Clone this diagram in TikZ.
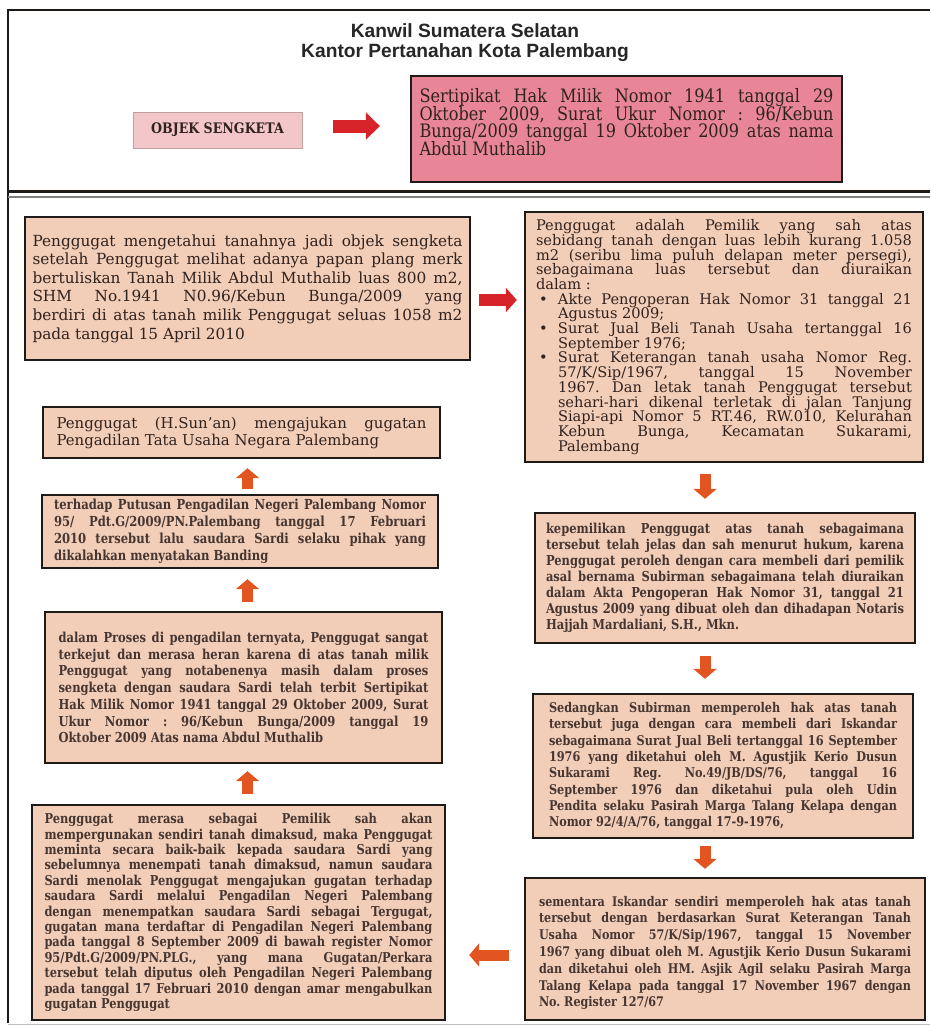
\documentclass[tikz,border=0pt]{standalone}
\usepackage{fontspec}
\usetikzlibrary{arrows.meta,calc}
\setmainfont{DejaVu Serif}
\newfontfamily\srn[FakeStretch=0.87]{DejaVu Serif}
\newfontfamily\srb[FakeStretch=0.84]{DejaVu Serif}
\newfontfamily\ttlfont{Liberation Sans}
\frenchspacing
\newdimen\jw
\newcommand\JL[1]{\hbox to\jw{\spaceskip=\fontdimen2\font plus 1fil\relax #1}}
\newcommand\LL[1]{\hbox{#1}}
\newcommand\BL{\hbox to 22pt{\hskip3pt\textbullet\hfil}}
\newcommand\IN{\hskip22pt}
\newcommand\setfs[3]{\fontsize{#1}{#2}\selectfont\lineskiplimit=-100pt\jw=#3pt\relax}
\definecolor{peach}{RGB}{242,205,183}
\definecolor{pinkbox}{RGB}{232,134,152}
\definecolor{objpink}{RGB}{243,198,202}
\definecolor{objline}{RGB}{195,160,160}
\definecolor{redA}{RGB}{214,36,40}
\definecolor{orA}{RGB}{226,84,34}
\definecolor{txtA}{RGB}{48,34,30}
\definecolor{txtB}{RGB}{70,54,50}
\definecolor{edge}{RGB}{30,26,24}
\tikzset{
  box/.style={rectangle, draw=edge, line width=2.4pt, fill=peach, inner sep=0pt},
  bigred/.style={draw=redA, line width=13pt, -{Triangle[width=27pt,length=14pt]}},
  redarrow/.style={draw=redA, line width=12pt, -{Triangle[width=24pt,length=11pt]}},
  orarrow/.style={draw=orA, line width=11pt, -{Triangle[width=23pt,length=10pt]}},
}
\begin{document}
\begin{tikzpicture}[x=1pt,y=-1pt]
\useasboundingbox (0,0) rectangle (930,1026);
% frame
\draw[line width=2.5pt, edge] (8,1023) -- (8,10) -- (930,10);
\draw[line width=3pt, edge] (8,191) -- (930,191);
\draw[line width=1.5pt, gray] (8,197) -- (930,197);
\draw[line width=1pt, gray!50] (8,1024) -- (930,1024);
% title
\node[font=\ttlfont\bfseries\fontsize{19.2}{20}\selectfont, anchor=base, text=black!85] (T1) at (465,37) {Kanwil Sumatera Selatan};
\node[font=\ttlfont\bfseries\fontsize{19.2}{20}\selectfont, anchor=base, text=black!85] (T2) at (465,57) {Kantor Pertanahan Kota Palembang};
% objek sengketa
\node[rectangle, draw=objline, line width=0.8pt, fill=objpink, minimum width=169pt, minimum height=36pt, inner sep=0pt,
      font=\srn\bfseries\fontsize{14.5}{16}\selectfont, text=txtA] (O) at (217.5,130) {OBJEK SENGKETA};
\node[box, fill=pinkbox, minimum width=431pt, minimum height=106pt,
      font=\srn\setfs{18.5}{17.5}{414}, text=txtA] (P) at (626.5,129) {\vbox{%
\JL{Sertipikat Hak Milik Nomor 1941 tanggal 29}
\JL{Oktober 2009, Surat Ukur Nomor : 96/Kebun}
\JL{Bunga/2009 tanggal 19 Oktober 2009 atas nama}
\LL{Abdul Muthalib}
\kern14pt}};
% box A
\node[box, minimum width=445pt, minimum height=143pt, font=\setfs{15.3}{18.6}{430}, text=txtA] (A) at (247.5,288.5) {\vbox{%
\JL{Penggugat mengetahui tanahnya jadi objek sengketa}
\JL{setelah Penggugat melihat adanya papan plang merk}
\JL{bertuliskan Tanah Milik Abdul Muthalib luas 800 m2,}
\JL{SHM No.1941 N0.96/Kebun Bunga/2009 yang}
\JL{berdiri di atas tanah milik Penggugat seluas 1058 m2}
\LL{pada tanggal 15 April 2010}}};
% box B
\node[box, minimum width=398pt, minimum height=250pt, font=\setfs{14.6}{14.7}{376}, text=txtA] (B) at (724,337) {\vbox{%
\JL{Penggugat adalah Pemilik yang sah atas}
\JL{sebidang tanah dengan luas lebih kurang 1.058}
\JL{m2 (seribu lima puluh delapan meter persegi),}
\JL{sebagaimana luas tersebut dan diuraikan}
\LL{dalam :}
\JL{\BL Akte Pengoperan Hak Nomor 31 tanggal 21}
\LL{\IN Agustus 2009;}
\JL{\BL Surat Jual Beli Tanah Usaha tertanggal 16}
\LL{\IN September 1976;}
\JL{\BL Surat Keterangan tanah usaha Nomor Reg.}
\JL{\IN 57/K/Sip/1967, tanggal 15 November}
\JL{\IN 1967. Dan letak tanah Penggugat tersebut}
\JL{\IN sehari-hari dikenal terletak di jalan Tanjung}
\JL{\IN Siapi-api Nomor 5 RT.46, RW.010, Kelurahan}
\JL{\IN Kebun Bunga, Kecamatan Sukarami,}
\LL{\IN Palembang}}};
% box C
\node[box, minimum width=380pt, minimum height=130pt, font=\srb\bfseries\setfs{13.7}{16}{358}, text=txtB] (C) at (725,578) {\vbox{%
\JL{kepemilikan Penggugat atas tanah sebagaimana}
\JL{tersebut telah jelas dan sah menurut hukum, karena}
\JL{Penggugat peroleh dengan cara membeli dari pemilik}
\JL{asal bernama Subirman sebagaimana telah diuraikan}
\JL{dalam Akta Pengoperan Hak Nomor 31, tanggal 21}
\JL{Agustus 2009 yang dibuat oleh dan dihadapan Notaris}
\LL{Hajjah Mardaliani, S.H., Mkn.}}};
% box D
\node[box, minimum width=380pt, minimum height=144pt, font=\srb\bfseries\setfs{13.4}{16.3}{348}, text=txtB] (D) at (723,766) {\vbox{%
\JL{Sedangkan Subirman memperoleh hak atas tanah}
\JL{tersebut juga dengan cara membeli dari Iskandar}
\JL{sebagaimana Surat Jual Beli tertanggal 16 September}
\JL{1976 yang diketahui oleh M. Agustjik Kerio Dusun}
\JL{Sukarami Reg. No.49/JB/DS/76, tanggal 16}
\JL{September 1976 dan diketahui pula oleh Udin}
\JL{Pendita selaku Pasirah Marga Talang Kelapa dengan}
\LL{Nomor 92/4/A/76, tanggal 17-9-1976,}}};
% box E
\node[box, minimum width=400pt, minimum height=142pt, font=\srb\bfseries\setfs{13.3}{16.8}{372}, text=txtB] (E) at (725,949) {\vbox{%
\kern8pt
\JL{sementara Iskandar sendiri memperoleh hak atas tanah}
\JL{tersebut dengan berdasarkan Surat Keterangan Tanah}
\JL{Usaha Nomor 57/K/Sip/1967, tanggal 15 November}
\JL{1967 yang dibuat oleh M. Agustjik Kerio Dusun Sukarami}
\JL{dan diketahui oleh HM. Asjik Agil selaku Pasirah Marga}
\JL{Talang Kelapa pada tanggal 17 November 1967 dengan}
\LL{No. Register 127/67}}};
% box F
\node[box, minimum width=413pt, minimum height=215pt, font=\srb\bfseries\setfs{13.6}{15.4}{388}, text=txtB] (F) at (238.5,912.5) {\vbox{%
\JL{Penggugat merasa sebagai Pemilik sah akan}
\JL{mempergunakan sendiri tanah dimaksud, maka Penggugat}
\JL{meminta secara baik-baik kepada saudara Sardi yang}
\JL{sebelumnya menempati tanah dimaksud, namun saudara}
\JL{Sardi menolak Penggugat mengajukan gugatan terhadap}
\JL{saudara Sardi melalui Pengadilan Negeri Palembang}
\JL{dengan menempatkan saudara Sardi sebagai Tergugat,}
\JL{gugatan mana terdaftar di Pengadilan Negeri Palembang}
\JL{pada tanggal 8 September 2009 di bawah register Nomor}
\JL{95/Pdt.G/2009/PN.PLG., yang mana Gugatan/Perkara}
\JL{tersebut telah diputus oleh Pengadilan Negeri Palembang}
\JL{pada tanggal 17 Februari 2010 dengan amar mengabulkan}
\LL{gugatan Penggugat}}};
% box G
\node[box, minimum width=397pt, minimum height=151pt, font=\srb\bfseries\setfs{13.7}{16.7}{370}, text=txtB] (G) at (243.5,687.5) {\vbox{%
\JL{dalam Proses di pengadilan ternyata, Penggugat sangat}
\JL{terkejut dan merasa heran karena di atas tanah milik}
\JL{Penggugat yang notabenenya masih dalam proses}
\JL{sengketa dengan saudara Sardi telah terbit Sertipikat}
\JL{Hak Milik Nomor 1941 tanggal 29 Oktober 2009, Surat}
\JL{Ukur Nomor : 96/Kebun Bunga/2009 tanggal 19}
\LL{Oktober 2009 Atas nama Abdul Muthalib}}};
% box H
\node[box, minimum width=396pt, minimum height=73pt, font=\srb\bfseries\setfs{13.8}{17}{372}, text=txtB] (H) at (240,531.5) {\vbox{%
\JL{terhadap Putusan Pengadilan Negeri Palembang Nomor}
\JL{95/ Pdt.G/2009/PN.Palembang tanggal 17 Februari}
\JL{2010 tersebut lalu saudara Sardi selaku pihak yang}
\LL{dikalahkan menyatakan Banding}}};
% box I
\node[box, minimum width=397pt, minimum height=51pt, font=\setfs{14.9}{17}{370}, text=txtA] (I) at (241.5,432.5) {\vbox{%
\JL{Penggugat (H.Sun'an) mengajukan gugatan}
\LL{Pengadilan Tata Usaha Negara Palembang}}};
% arrows
\draw[bigred, shorten <=31pt, shorten >=30pt] ([yshift=4pt]O.east) -- ([yshift=4pt]O.east -| P.west);
\draw[redarrow, shorten <=8pt, shorten >=7pt] ([yshift=-11.5pt]A.east) -- ([yshift=-11.5pt]A.east -| B.west);
\draw[orarrow, shorten <=11pt, shorten >=13pt] ([xshift=-19pt]B.south) -- ([xshift=-19pt]B.south |- C.north);
\draw[orarrow, shorten <=12pt, shorten >=14pt] ([xshift=-20pt]C.south) -- ([xshift=-20pt]C.south |- D.north);
\draw[orarrow, shorten <=7pt, shorten >=8pt] ([xshift=-18pt]D.south) -- ([xshift=-18pt]D.south |- E.north);
\draw[orarrow, shorten <=15pt, shorten >=23pt] ([yshift=-6pt]E.west) -- ([yshift=-6pt]E.west -| F.east);
\draw[orarrow, shorten <=10pt, shorten >=7pt] ([xshift=9pt]F.north) -- ([xshift=9pt]F.north |- G.south);
\draw[orarrow, shorten <=9pt, shorten >=10pt] ([xshift=4pt]G.north) -- ([xshift=4pt]G.north |- H.south);
\draw[orarrow, shorten <=5pt, shorten >=9pt] ([xshift=7.5pt]H.north) -- ([xshift=7.5pt]H.north |- I.south);
\end{tikzpicture}
\end{document}
